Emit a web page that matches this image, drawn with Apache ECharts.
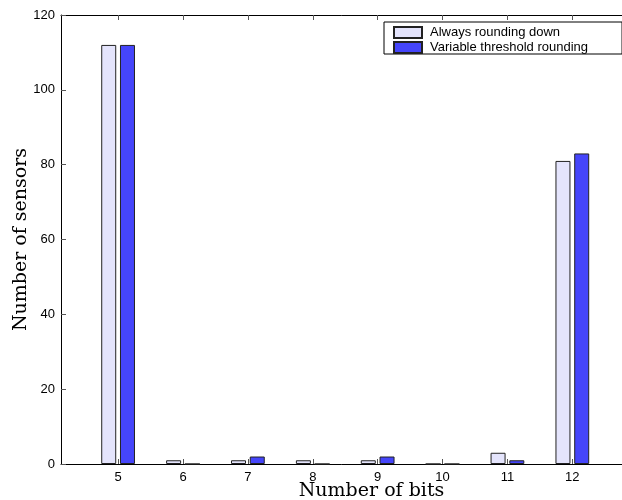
<!DOCTYPE html>
<html>
<head>
<meta charset="utf-8">
<script src="https://cdn.jsdelivr.net/npm/echarts@6/dist/echarts.min.js"></script>
<style>
  html, body { margin: 0; padding: 0; background: #fff; }
  #chart { width: 622px; height: 500px; }
</style>
</head>
<body>
<div id="chart"></div>
<script>
// number of bits on x, sensor counts per method
const bits = [5, 6, 7, 8, 9, 10, 11, 12]
const alwaysDown = [112, 1, 1, 1, 1, 0, 3, 81]
const variableThreshold = [112, 0, 2, 0, 2, 0, 1, 83]
const seriesNames = ["Always rounding down", "Variable threshold rounding"]

const sansFont = "'Liberation Sans', Arial, Helvetica, sans-serif"
const serifFont = "'DejaVu Serif', 'Liberation Serif', serif"

const chart = echarts.init(document.getElementById("chart"))

const xMin = 4.12
const xMax = 13.69

const option = {
  animation: false,
  backgroundColor: "#fff",
  grid: {
    left: 61,
    top: 15,
    width: 621,
    bottom: 36,
    containLabel: false,
    outerBoundsMode: "none"
  },
  legend: {
    orient: "vertical",
    left: 384,
    top: 22,
    padding: [4, 34, 0, 9],
    itemWidth: 28,
    itemHeight: 11,
    itemGap: 2,
    borderColor: "#000",
    borderWidth: 1,
    backgroundColor: "#fff",
    icon: "rect",
    textStyle: {
      fontFamily: sansFont,
      fontSize: 13,
      color: "#000",
      lineHeight: 13,
      padding: [0, 0, 0, 3]
    },
    data: seriesNames
  },
  xAxis: [
    {
      type: "value",
      min: xMin,
      max: xMax,
      position: "bottom",
      name: "Number of bits",
      nameLocation: "middle",
      nameGap: 18,
      nameMoveOverlap: false,
      nameTextStyle: {
        fontFamily: serifFont,
        fontSize: 19,
        color: "#000"
      },
      axisLine: { show: true, lineStyle: { color: "#000", width: 1 } },
      axisTick: {
        show: true,
        inside: true,
        length: 5,
        customValues: bits,
        lineStyle: { color: "#555" }
      },
      axisLabel: {
        customValues: bits,
        margin: 7,
        fontFamily: sansFont,
        fontSize: 13,
        color: "#000"
      },
      splitLine: { show: false }
    },
    {
      type: "value",
      min: xMin,
      max: xMax,
      position: "top",
      axisLine: { show: true, lineStyle: { color: "#000", width: 1 } },
      axisTick: {
        show: true,
        inside: true,
        length: 5,
        customValues: bits,
        lineStyle: { color: "#555" }
      },
      axisLabel: { show: false },
      splitLine: { show: false }
    }
  ],
  yAxis: {
    type: "value",
    min: 0,
    max: 120,
    interval: 20,
    name: "Number of sensors",
    nameLocation: "middle",
    nameGap: 30,
    nameMoveOverlap: false,
    nameTextStyle: {
      fontFamily: serifFont,
      fontSize: 19,
      color: "#000"
    },
    axisLine: { show: true, lineStyle: { color: "#000", width: 1 } },
    axisTick: {
      show: true,
      inside: true,
      length: 5,
      lineStyle: { color: "#555" }
    },
    axisLabel: {
      margin: 6,
      fontFamily: sansFont,
      fontSize: 13,
      color: "#000"
    },
    splitLine: { show: false }
  },
  series: [
    {
      name: seriesNames[0],
      type: "bar",
      xAxisIndex: 0,
      barWidth: 15,
      barGap: "25%",
      itemStyle: { color: "#e4e4fc", borderColor: "#222", borderWidth: 1 },
      data: bits.map((b, i) => [b, alwaysDown[i]])
    },
    {
      name: seriesNames[1],
      type: "bar",
      xAxisIndex: 0,
      barWidth: 15,
      barGap: "25%",
      itemStyle: { color: "#4545fa", borderColor: "#222", borderWidth: 1 },
      data: bits.map((b, i) => [b, variableThreshold[i]])
    }
  ]
}

chart.setOption(option)
</script>
</body>
</html>
